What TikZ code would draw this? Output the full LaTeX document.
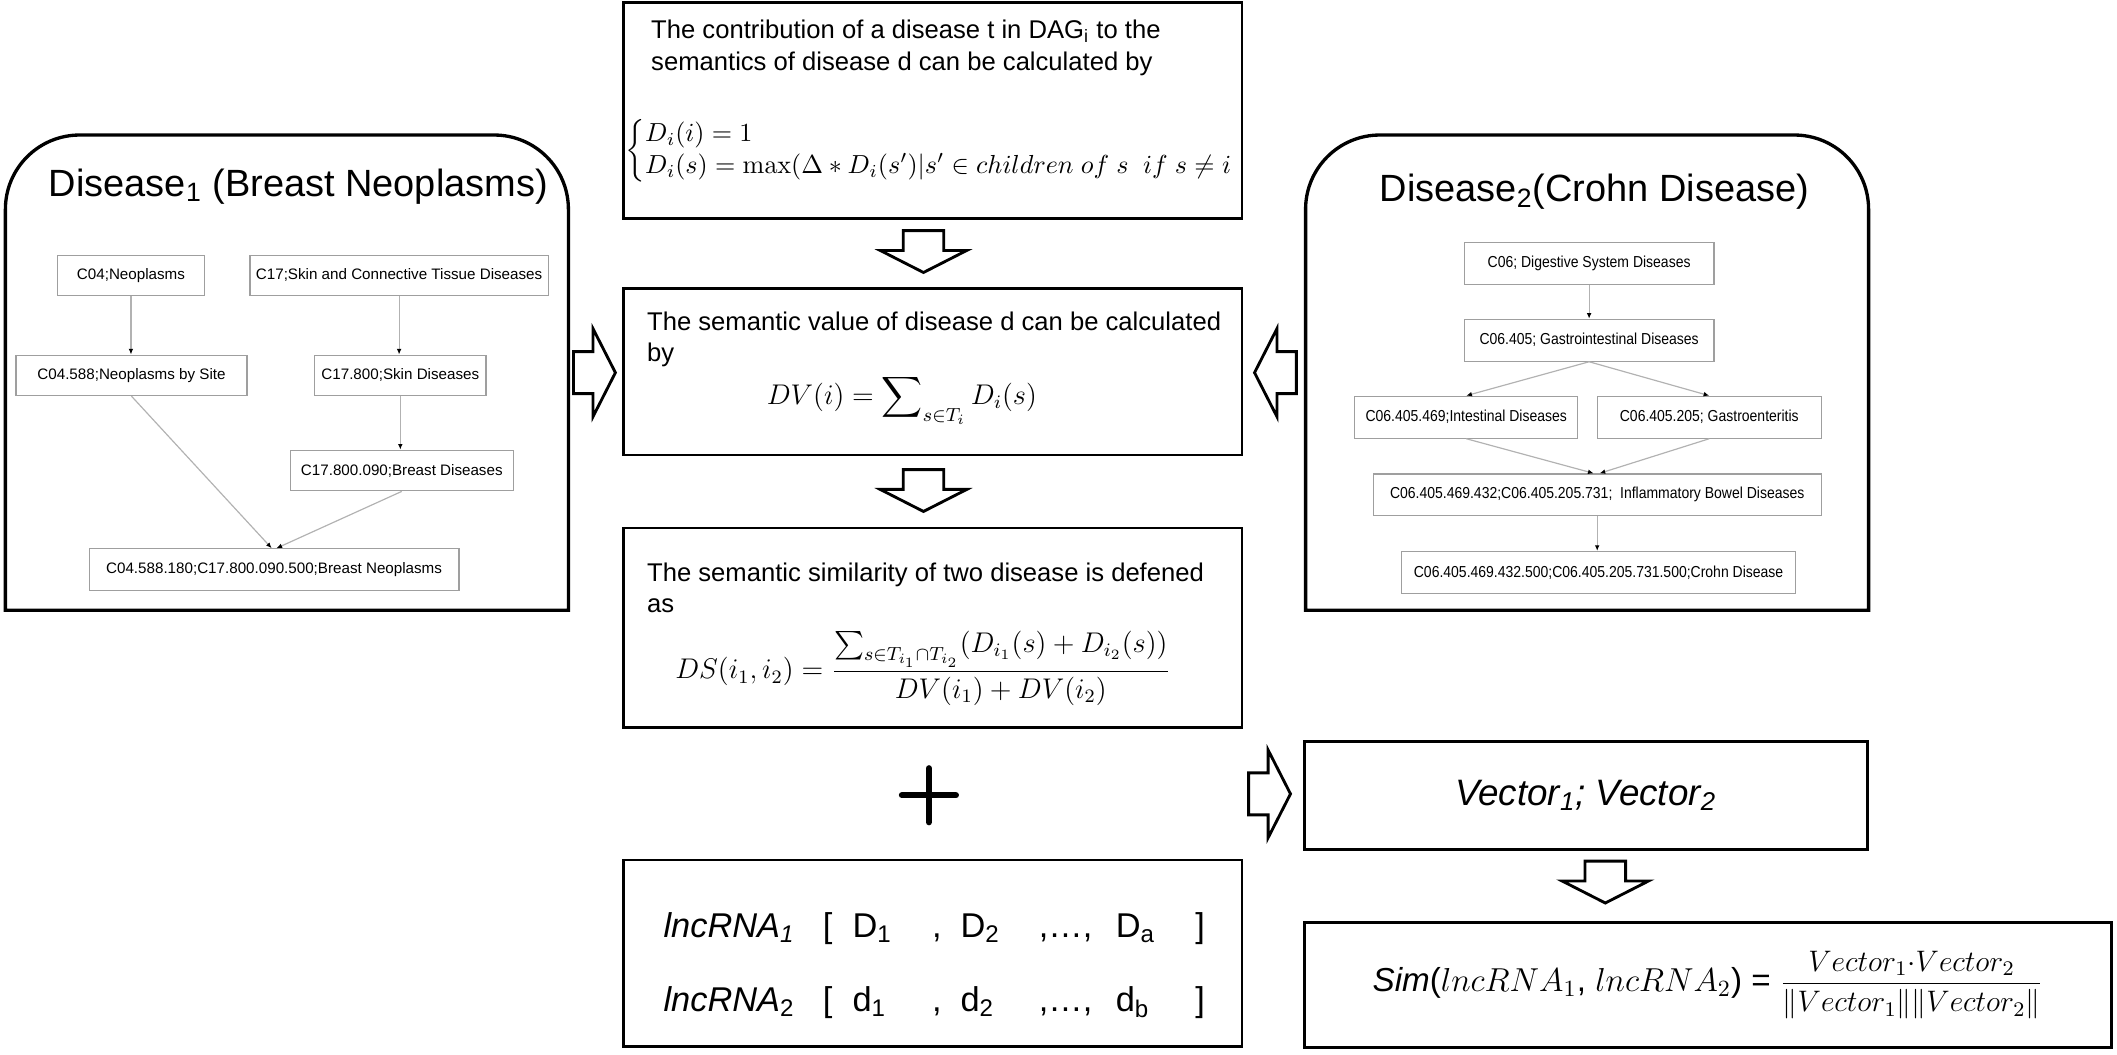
\RequirePackage{fix-cm}
\documentclass[tikz,border=0pt]{standalone}
\usepackage{amsmath,amssymb}
\usepackage[no-math]{fontspec}
\setmainfont{Liberation Sans}
\newfontfamily\narrowfont[FakeStretch=0.88]{Liberation Sans}
\usepackage{tikz}
\usetikzlibrary{arrows.meta,shapes.arrows,positioning}

\tikzset{
  box/.style={draw,line width=1.2pt,inner sep=0pt},
  panel/.style={line width=1.4pt},
  dag/.style={draw=gray!75,line width=0.5pt,minimum height=0.6cm,inner sep=1pt,
    font=\fontsize{6.4}{7}\selectfont},
  dagr/.style={dag,minimum height=0.62cm,font=\narrowfont\fontsize{6.7}{7}\selectfont},
  link/.style={draw=gray!60,line width=0.5pt,-{Latex[length=2.4pt,width=2pt,black]}},
  bigarrow/.style={single arrow,draw,line width=1.2pt,fill=white,inner xsep=0pt,
    inner ysep=0.29cm,single arrow head extend=0.34cm,single arrow tip angle=126,
    minimum height=0.62cm,anchor=tip},
  downarrow/.style={bigarrow,shape border rotate=270,inner xsep=0.28cm,inner ysep=0pt},
  body/.style={align=left,inner sep=0pt,anchor=west,font=\fontsize{10.8}{13.3}\selectfont},
  formula/.style={inner sep=0pt,font=\fontsize{12}{13.3}\selectfont},
}

\begin{document}
\begin{tikzpicture}[x=0.02cm,y=-0.02cm]
\useasboundingbox (0,0) rectangle (1568,781.4);

% the two disease DAGs
\draw[panel] (4,452) -- (4,300) {[rounded corners=1.1cm] -- (4,100) -- (421,100) -- (421,300)} -- (421,452) -- cycle;
\draw[panel] (967,452) -- (967,300) {[rounded corners=1.1cm] -- (967,100) -- (1384,100) -- (1384,300)} -- (1384,452) -- cycle;
\path
(221,138)   node[font=\fontsize{16}{18}\selectfont] (t1) {Disease\textsubscript{1} (Breast Neoplasms)}
(97,204)    node[dag,minimum width=2.18cm] (c04) {C04;Neoplasms}
(295.6,204) node[dag,minimum width=4.42cm] (c17) {C17;Skin and Connective Tissue Diseases}
(97.4,278)  node[dag,minimum width=3.42cm] (c04588) {C04.588;Neoplasms by Site}
(296.5,278) node[dag,minimum width=2.54cm] (c17800) {C17.800;Skin Diseases}
(297.6,348.5) node[dag,minimum width=3.3cm] (c17800090) {C17.800.090;Breast Diseases}
(203,422)   node[dag,minimum width=5.48cm,minimum height=0.62cm] (bn) {C04.588.180;C17.800.090.500;Breast Neoplasms};
\path
(1181,142)  node[font=\fontsize{16}{18}\selectfont] (t2) {Disease\textsubscript{2}(Crohn Disease)}
(1177,195)  node[dagr,minimum width=3.7cm] (c06) {C06; Digestive System Diseases}
(1177,252)  node[dagr,minimum width=3.7cm] (c06405) {C06.405; Gastrointestinal Diseases}
(1086,309)  node[dagr,minimum width=3.3cm] (c06405469) {C06.405.469;Intestinal Diseases}
(1266,309)  node[dagr,minimum width=3.32cm] (c06405205) {C06.405.205; Gastroenteritis}
(1183,366.5) node[dagr,minimum width=6.64cm] (ibd) {C06.405.469.432;C06.405.205.731;\ \ Inflammatory Bowel Diseases}
(1184,424)  node[dagr,minimum width=5.84cm] (crohn) {C06.405.469.432.500;C06.405.205.731.500;Crohn Disease};

\draw[link] (c04.south) -- (c04.south |- c04588.north);
\draw[link] (c17.south) -- (c17.south |- c17800.north);
\draw[link] (c17800.south) -- (c17800.south |- c17800090.north);
\draw[link] (c04588.south) -- ([xshift=-1pt]bn.north);
\draw[link] (c17800090.south) -- ([xshift=1pt]bn.north);
\draw[link] (c06.south) -- (c06.south |- c06405.north);
\draw[link] (c06405.south) -- (c06405469.north);
\draw[link] (c06405.south) -- (c06405205.north);
\draw[link] (c06405469.south) -- ([xshift=-1.5pt]ibd.north);
\draw[link] (c06405205.south) -- ([xshift=1pt]ibd.north);
\draw[link] (ibd.south) -- (ibd.south |- crohn.north);

% semantic similarity steps
\node[box,minimum width=9.16cm,minimum height=3.2cm] (cont) at (691,82) {};
\node[body] (contt) at (482,35.5) {The contribution of a disease t in DAG\textsubscript{i} to the\\semantics of disease d can be calculated by};
\node[formula,anchor=west,font=\fontsize{11}{13.3}\selectfont] (contf) at (463,112)
  {$\left\{\begin{array}{@{}l@{}} D_i(i)=1\\ D_i(s)=\max(\Delta*D_i(s')|s'\in children\ of\ s\ \ if\ s\neq i\end{array}\right.$};

\node[box,minimum width=9.16cm,minimum height=2.47cm] (val) at (691,275.3) {};
\node[body] (valt) at (479,251.3) {The semantic value of disease d can be calculated\\by};
\node[formula] (valf) at (668,296) {$\displaystyle DV(i)=\sum\nolimits_{s\in T_i} D_i(s)$};

\node[box,minimum width=9.16cm,minimum height=2.96cm] (ds) at (691,465) {};
\node[body] (dst) at (479,435.3) {The semantic similarity of two disease is defened\\as};
\node[formula] (dsf) at (683.5,495)
  {$DS(i_1,i_2)=\dfrac{\sum_{s\in T_{i_1}\cap T_{i_2}}(D_{i_1}(s)+D_{i_2}(s))}{DV(i_1)+DV(i_2)}$};

\draw[line width=2.6pt,line cap=round] (668,589) -- (708,589) (688,569) -- (688,609);

\node[box,minimum width=9.16cm,minimum height=2.76cm] (lnc) at (691,706) {};
\node[inner sep=0pt] (lnct) at (692,711) {\fontsize{14.5}{31.2}\selectfont
  \begin{tabular}{@{}p{2.36cm}@{}p{0.44cm}@{}p{1.18cm}@{}p{0.42cm}@{}p{1.16cm}@{}p{1.14cm}@{}p{1.18cm}@{}l@{}}
  \textit{lncRNA\textsubscript{1}} & [ & D\textsubscript{1} & , & D\textsubscript{2} & ,\dots, & D\textsubscript{a} & ]\\
  \textit{lncRNA}\textsubscript{2} & [ & d\textsubscript{1} & , & d\textsubscript{2} & ,\dots, & d\textsubscript{b} & ]
  \end{tabular}};

\node[box,minimum width=8.34cm,minimum height=1.6cm,font=\fontsize{15.5}{18}\selectfont] (vec) at (1174.5,589)
  {\textit{Vector\textsubscript{1}; Vector\textsubscript{2}}};
\node[box,minimum width=11.96cm,minimum height=1.86cm,font=\fontsize{14}{17}\selectfont] (sim) at (1265,729.5)
  {\textit{Sim}($lncRNA_1$, $lncRNA_2$) = {\fontsize{12.5}{14}\selectfont$\dfrac{Vector_1{\cdot}Vector_2}{\|Vector_1\|\|Vector_2\|}$}};

% hollow arrows
\node[bigarrow] (a1) at (457,276) {};
\node[bigarrow,shape border rotate=180] (a2) at (928,276) {};
\node[downarrow] (a3) at (684,203) {};
\node[downarrow] (a4) at (684,380) {};
\node[bigarrow] (a5) at (957,588) {};
\node[downarrow] (a6) at (1189,670) {};
\end{tikzpicture}
\end{document}
